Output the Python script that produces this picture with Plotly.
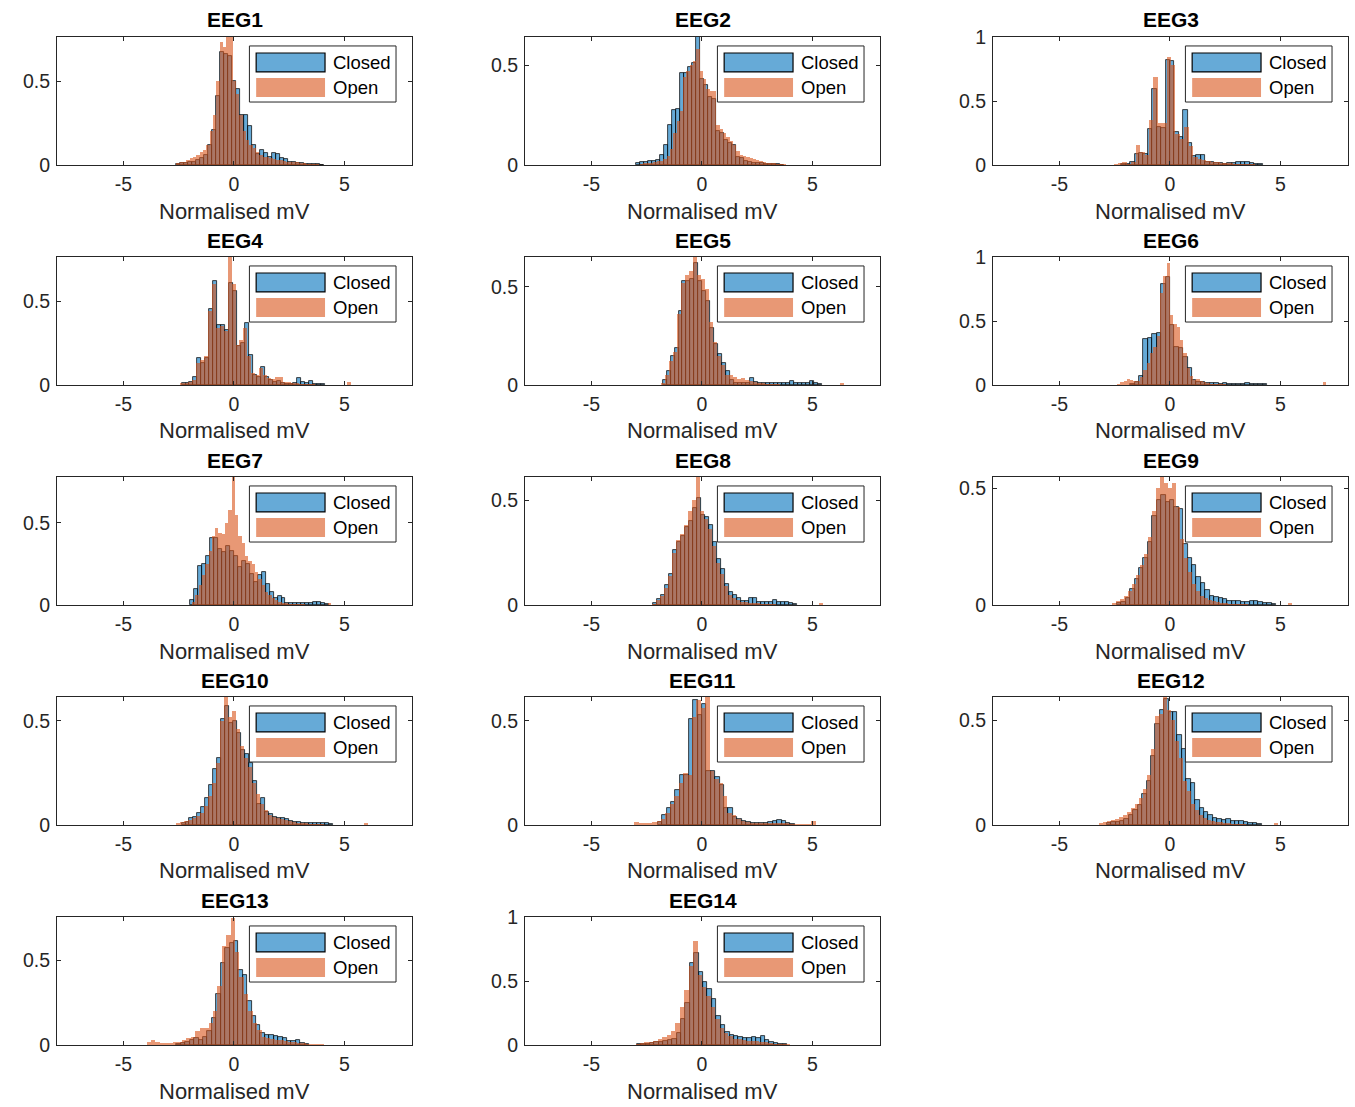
import plotly.graph_objects as go

channels = ["EEG1", "EEG2", "EEG3", "EEG4", "EEG5", "EEG6", "EEG7",
            "EEG8", "EEG9", "EEG10", "EEG11", "EEG12", "EEG13", "EEG14"]
series_names = ["Closed", "Open"]
x_label = "Normalised mV"
x_ticks = [-5, 0, 5]
x_tick_labels = ["-5", "0", "5"]
y_ticks = [0, 0.5, 1]
y_tick_labels = ["0", "0.5", "1"]

# histogram bin layout (left edge of first bin, bin width)
closed_start = [-2.6, -2.97, -2.2, -2.37, -1.78, -1.8, -1.99, -2.2, -2.4, -2.37, -2.0, -2.86, -2.6, -2.95]
closed_width = [0.18, 0.18, 0.2, 0.18, 0.18, 0.2, 0.18, 0.18, 0.2, 0.18, 0.2, 0.2, 0.2, 0.2]
open_start = [-2.6, -2.8, -2.55, -2.45, -1.85, -2.4, -1.9, -2.25, -2.6, -2.6, -3.05, -3.2, -3.95, -3.0]
open_width = [0.15, 0.15, 0.2, 0.18, 0.18, 0.15, 0.15, 0.18, 0.18, 0.18, 0.2, 0.18, 0.2, 0.2]
y_max = [0.762, 0.64, 1.0, 0.762, 0.653, 1.0, 0.78, 0.61, 0.547, 0.615, 0.615, 0.61, 0.753, 1.0]

eeg1_closed = [0.005, 0.01, 0.012, 0.015, 0.02, 0.03, 0.04, 0.06, 0.12, 0.21, 0.41, 0.67, 0.66, 0.65, 0.50, 0.45,
               0.30, 0.30, 0.23, 0.12, 0.065, 0.09, 0.07, 0.045, 0.073, 0.065, 0.04, 0.034, 0.02, 0.015, 0.012,
               0.01, 0.008, 0.006, 0.005, 0.004, 0.003]
eeg1_open = [0.01, 0.015, 0.02, 0.03, 0.04, 0.05, 0.06, 0.08, 0.09, 0.12, 0.2, 0.3, 0.5, 0.73, 0.7, 0.76, 0.76,
             0.5, 0.42, 0.3, 0.2, 0.15, 0.12, 0.1, 0.08, 0.06, 0.05, 0.045, 0.04, 0.035, 0.03, 0.03, 0.025, 0.02,
             0.02, 0.015, 0.015, 0.01, 0.01, 0.008, 0.005, 0.005, 0.004, 0.003, 0.003, 0.002]
eeg2_closed = [0.01, 0.015, 0.017, 0.02, 0.02, 0.025, 0.05, 0.1, 0.2, 0.275, 0.28, 0.46, 0.46, 0.49, 0.51, 0.65,
               0.43, 0.40, 0.34, 0.33, 0.17, 0.16, 0.125, 0.11, 0.1, 0.04, 0.035, 0.02, 0.015, 0.012, 0.01, 0.008,
               0.006, 0.005, 0.004, 0.003, 0.002]
eeg2_open = [0.005, 0.008, 0.01, 0.012, 0.015, 0.018, 0.02, 0.03, 0.045, 0.08, 0.16, 0.22, 0.27, 0.44, 0.47, 0.5,
             0.52, 0.58, 0.47, 0.43, 0.38, 0.37, 0.37, 0.2, 0.18, 0.16, 0.14, 0.12, 0.1, 0.07, 0.05, 0.045, 0.04,
             0.035, 0.03, 0.025, 0.02, 0.015, 0.012, 0.01, 0.008, 0.006, 0.005, 0.004]
eeg3_closed = [0.005, 0.01, 0.025, 0.085, 0.09, 0.085, 0.28, 0.59, 0.3, 0.29, 0.82, 0.815, 0.26, 0.22, 0.43, 0.17,
               0.07, 0.08, 0.08, 0.025, 0.02, 0.015, 0.012, 0.01, 0.012, 0.015, 0.02, 0.025, 0.02, 0.015, 0.01,
               0.005]
eeg3_open = [0.005, 0.015, 0.02, 0.01, 0.02, 0.16, 0.1, 0.08, 0.35, 0.69, 0.33, 0.33, 0.84, 0.78, 0.24, 0.2, 0.3,
             0.15, 0.06, 0.05, 0.04, 0.03, 0.02, 0.02, 0.015, 0.012, 0.015, 0.01, 0.008, 0.01, 0.008, 0.005]
eeg4_closed = [0.014, 0.014, 0.02, 0.045, 0.16, 0.13, 0.16, 0.45, 0.62, 0.36, 0.36, 0.33, 0.61, 0.56, 0.23, 0.25,
               0.37, 0.18, 0.06, 0.05, 0.11, 0.05, 0.03, 0.02, 0.025, 0.01, 0.008, 0.008, 0.01, 0.04, 0.02, 0.01,
               0.025, 0.008, 0.005, 0.004]
eeg4_open = [0.01, 0.012, 0.015, 0.03, 0.13, 0.15, 0.17, 0.44, 0.6, 0.34,
             0.35, 0.32, 0.76, 0.6, 0.24, 0.27, 0.34, 0.17, 0.07, 0.06,
             0.1, 0.06, 0.04, 0.035, 0.05, 0.05, 0.02, 0.015, 0.01, 0.01,
             0.008, 0.006, 0.005, 0.004, 0.003, 0.002, 0.002, 0.002, 0.002, 0.002,
             0, 0, 0.015]
eeg5_closed = [0.025, 0.07, 0.15, 0.19, 0.38, 0.53, 0.53, 0.54, 0.62, 0.53, 0.48, 0.43, 0.29, 0.21, 0.16, 0.11,
               0.07, 0.025, 0.01, 0.01, 0.012, 0.012, 0.034, 0.015, 0.012, 0.01, 0.01, 0.008, 0.01, 0.012, 0.01,
               0.01, 0.02, 0.01, 0.008, 0.01, 0.012, 0.02, 0.008, 0.004]
eeg5_open = [0.01, 0.05, 0.12, 0.17, 0.36, 0.52, 0.56, 0.58, 0.66, 0.56,
             0.54, 0.49, 0.32, 0.22, 0.15, 0.1, 0.05, 0.05, 0.04, 0.03,
             0.035, 0.025, 0.02, 0.015, 0.01, 0.008, 0.006, 0.005, 0.004, 0.003,
             0.002, 0.002, 0.002, 0.002, 0.002, 0.002, 0.002, 0.002, 0, 0,
             0, 0, 0, 0, 0, 0.01]
eeg6_closed = [0.005, 0.02, 0.07, 0.36, 0.37, 0.40, 0.41, 0.79, 0.84, 0.47, 0.30, 0.29, 0.22, 0.13, 0.04, 0.025,
               0.02, 0.015, 0.015, 0.012, 0.01, 0.012, 0.01, 0.01, 0.008, 0.01, 0.012, 0.01, 0.008, 0.005, 0.004]
eeg6_open = [0.01, 0.02, 0.03, 0.05, 0.04, 0.03, 0.03, 0.06, 0.12, 0.17,
             0.25, 0.3, 0.38, 0.72, 0.85, 0.95, 0.55, 0.48, 0.45, 0.35,
             0.25, 0.13, 0.07, 0.04, 0.05, 0.03, 0.02, 0.015, 0.01, 0.008,
             0.006, 0.005, 0.004, 0.003, 0.002, 0.002, 0.002, 0.002, 0.002, 0.002,
             0.002, 0.002, 0.002, 0.002, 0.002, 0, 0, 0, 0, 0,
             0, 0, 0, 0, 0, 0, 0, 0, 0, 0,
             0, 0, 0.02]
eeg7_closed = [0.03, 0.1, 0.24, 0.25, 0.3, 0.41, 0.41, 0.34, 0.32, 0.36, 0.33, 0.3, 0.23, 0.27, 0.25, 0.19, 0.14,
               0.18, 0.2, 0.13, 0.08, 0.04, 0.055, 0.04, 0.014, 0.014, 0.012, 0.012, 0.01, 0.01, 0.012, 0.02, 0.02,
               0.012, 0.005]
eeg7_open = [0.02, 0.06, 0.12, 0.18, 0.25, 0.33, 0.42, 0.47, 0.44, 0.43,
             0.5, 0.58, 0.78, 0.55, 0.42, 0.38, 0.3, 0.27, 0.25, 0.2,
             0.16, 0.12, 0.08, 0.06, 0.04, 0.03, 0.02, 0.015, 0.01, 0.008,
             0.006, 0.005, 0.004, 0.004, 0.003, 0.003, 0.003, 0.003, 0.003, 0.003,
             0.003, 0.01]
eeg8_closed = [0.008, 0.03, 0.05, 0.095, 0.15, 0.26, 0.3, 0.33, 0.37, 0.4, 0.46, 0.51, 0.43, 0.42, 0.38, 0.3,
               0.22, 0.17, 0.1, 0.063, 0.048, 0.032, 0.02, 0.02, 0.032, 0.032, 0.016, 0.012, 0.012, 0.016, 0.024,
               0.016, 0.016, 0.016, 0.008, 0.005]
eeg8_open = [0.005, 0.025, 0.045, 0.08, 0.14, 0.25, 0.31, 0.34, 0.38, 0.45,
             0.5, 0.62, 0.45, 0.41, 0.36, 0.28, 0.2, 0.15, 0.09, 0.05,
             0.035, 0.025, 0.015, 0.012, 0.01, 0.01, 0.008, 0.006, 0.005, 0.004,
             0.003, 0.002, 0.002, 0.002, 0.002, 0.002, 0.002, 0.002, 0.002, 0.002,
             0, 0, 0.01]
eeg9_closed = [0.007, 0.014, 0.03, 0.07, 0.11, 0.16, 0.2, 0.27, 0.38, 0.45, 0.47, 0.44, 0.45, 0.42, 0.41, 0.26,
               0.2, 0.17, 0.12, 0.093, 0.064, 0.038, 0.033, 0.028, 0.024, 0.017, 0.017, 0.017, 0.014, 0.014, 0.018,
               0.018, 0.014, 0.01, 0.007, 0.005]
eeg9_open = [0.008, 0.015, 0.025, 0.04, 0.06, 0.09, 0.13, 0.17, 0.22, 0.29,
             0.4, 0.5, 0.55, 0.52, 0.5, 0.52, 0.42, 0.28, 0.2, 0.14,
             0.09, 0.06, 0.04, 0.03, 0.02, 0.015, 0.012, 0.01, 0.008, 0.006,
             0.005, 0.004, 0.003, 0.003, 0.002, 0.002, 0.002, 0.002, 0.002, 0.002,
             0.002, 0.002, 0.002, 0.002, 0.01]
eeg10_closed = [0.008, 0.016, 0.032, 0.04, 0.06, 0.088, 0.13, 0.19, 0.27, 0.32, 0.51, 0.57, 0.49, 0.5, 0.44,
                0.36, 0.34, 0.3, 0.21, 0.1, 0.13, 0.064, 0.053, 0.04, 0.035, 0.032, 0.027, 0.021, 0.016, 0.016,
                0.011, 0.011, 0.011, 0.011, 0.008, 0.008, 0.008, 0.005]
eeg10_open = [0.01, 0.015, 0.02, 0.025, 0.035, 0.045, 0.06, 0.09, 0.14, 0.2,
              0.3, 0.5, 0.615, 0.52, 0.55, 0.46, 0.38, 0.32, 0.28, 0.2,
              0.15, 0.1, 0.07, 0.05, 0.04, 0.032, 0.027, 0.022, 0.018, 0.015,
              0.012, 0.01, 0.008, 0.006, 0.005, 0.004, 0.003, 0.002, 0.002, 0.002,
              0.002, 0.002, 0.002, 0.002, 0.002, 0.002, 0, 0.01]
eeg11_closed = [0.015, 0.05, 0.08, 0.11, 0.17, 0.24, 0.24, 0.51, 0.6, 0.53, 0.58, 0.26, 0.26, 0.23, 0.19, 0.08,
                0.08, 0.04, 0.03, 0.02, 0.015, 0.012, 0.01, 0.01, 0.012, 0.015, 0.02, 0.025, 0.02, 0.012, 0.005]
eeg11_open = [0.015, 0.01, 0.01, 0.012, 0.015, 0.02, 0.03, 0.06, 0.1, 0.14,
              0.2, 0.25, 0.24, 0.52, 0.6, 0.56, 0.615, 0.26, 0.22, 0.2,
              0.14, 0.06, 0.05, 0.03, 0.02, 0.015, 0.012, 0.01, 0.008, 0.008,
              0.008, 0.01, 0.01, 0.01, 0.008, 0.006, 0.004, 0.003, 0.003, 0.003,
              0.02]
eeg12_closed = [0.01, 0.012, 0.016, 0.02, 0.03, 0.05, 0.07, 0.095, 0.15, 0.21, 0.33, 0.48, 0.55, 0.6, 0.54, 0.54,
                0.43, 0.36, 0.22, 0.2, 0.12, 0.08, 0.063, 0.048, 0.032, 0.03, 0.024, 0.028, 0.02, 0.018, 0.018,
                0.014, 0.01, 0.01, 0.006]
eeg12_open = [0.01, 0.015, 0.02, 0.025, 0.03, 0.04, 0.05, 0.06, 0.08, 0.1,
              0.13, 0.17, 0.24, 0.36, 0.52, 0.53, 0.61, 0.55, 0.5, 0.4,
              0.32, 0.21, 0.16, 0.1, 0.07, 0.05, 0.035, 0.025, 0.02, 0.015,
              0.012, 0.01, 0.008, 0.006, 0.005, 0.004, 0.003, 0.002, 0.002, 0.002,
              0.002, 0.002, 0.002, 0.002, 0.01]
eeg13_closed = [0.005, 0.01, 0.015, 0.03, 0.04, 0.03, 0.05, 0.08, 0.16, 0.3, 0.48, 0.57, 0.6, 0.61, 0.44, 0.41,
                0.26, 0.17, 0.12, 0.07, 0.06, 0.06, 0.053, 0.05, 0.04, 0.025, 0.025, 0.03, 0.012, 0.006]
eeg13_open = [0.02, 0.03, 0.015, 0.01, 0.01, 0.012, 0.015, 0.02, 0.03, 0.04, 0.05, 0.08, 0.1, 0.1, 0.13, 0.2,
              0.35, 0.58, 0.65, 0.75, 0.55, 0.4, 0.3, 0.2, 0.13, 0.09, 0.05, 0.04, 0.035, 0.03, 0.03, 0.025,
              0.02, 0.015, 0.012, 0.01, 0.008, 0.006, 0.004, 0.003, 0.002]
eeg14_closed = [0.004, 0.005, 0.008, 0.012, 0.02, 0.026, 0.03, 0.04, 0.05, 0.09, 0.2, 0.33, 0.64, 0.72, 0.57,
                0.49, 0.44, 0.36, 0.23, 0.16, 0.1, 0.08, 0.07, 0.065, 0.057, 0.052, 0.065, 0.057, 0.07, 0.04,
                0.026, 0.015, 0.008, 0.005]
eeg14_open = [0.01, 0.015, 0.02, 0.025, 0.035, 0.045, 0.06, 0.08, 0.11, 0.17, 0.3, 0.43, 0.62, 0.81, 0.55, 0.45,
              0.38, 0.3, 0.2, 0.13, 0.09, 0.07, 0.05, 0.045, 0.04, 0.035, 0.03, 0.03, 0.025, 0.02, 0.015, 0.01,
              0.008, 0.005, 0.004, 0.003]

closed_heights = [eeg1_closed, eeg2_closed, eeg3_closed, eeg4_closed, eeg5_closed, eeg6_closed, eeg7_closed,
                  eeg8_closed, eeg9_closed, eeg10_closed, eeg11_closed, eeg12_closed, eeg13_closed, eeg14_closed]
open_heights = [eeg1_open, eeg2_open, eeg3_open, eeg4_open, eeg5_open, eeg6_open, eeg7_open,
                eeg8_open, eeg9_open, eeg10_open, eeg11_open, eeg12_open, eeg13_open, eeg14_open]

# ---------------- styling / layout ----------------
W, H = 1355, 1107
FONT = "Liberation Sans, Arial, Helvetica, sans-serif"
INK = "#262626"
CLOSED_FILL = "rgba(0,114,189,0.6)"
OPEN_FILL = "rgba(217,83,25,0.6)"
col_left = [57, 525, 993]
col_w = 355
row_top = [37, 257, 477, 697, 917]
ax_h = 128


def centers(start, width, n):
    return [start + width * (k + 0.5) for k in range(n)]


fig = go.Figure()
shapes = []
annotations = []

for i, name in enumerate(channels):
    r, c = divmod(i, 3)
    sfx = "" if i == 0 else str(i + 1)
    xa, ya = "x" + sfx, "y" + sfx
    ch = closed_heights[i]
    oh = open_heights[i]
    fig.add_trace(go.Bar(
        x=centers(closed_start[i], closed_width[i], len(ch)), y=ch, width=closed_width[i],
        marker=dict(color=CLOSED_FILL, line=dict(color="rgba(0,0,0,0.9)", width=0.8)),
        name=series_names[0], showlegend=False, xaxis=xa, yaxis=ya, hoverinfo="x+y"))
    fig.add_trace(go.Bar(
        x=centers(open_start[i], open_width[i], len(oh)), y=oh, width=open_width[i],
        marker=dict(color=OPEN_FILL, line=dict(width=0)),
        name=series_names[1], showlegend=False, xaxis=xa, yaxis=ya, hoverinfo="x+y"))

    x0 = col_left[c] / W
    x1 = (col_left[c] + col_w) / W
    y1 = 1 - row_top[r] / H
    y0 = 1 - (row_top[r] + ax_h) / H
    axis_common = dict(showgrid=False, zeroline=False, showline=True, linecolor=INK, linewidth=1,
                       mirror="ticks", ticks="inside", ticklen=4, tickwidth=1, tickcolor=INK,
                       automargin=False, tickfont=dict(family=FONT, size=19.5, color=INK))
    fig.layout["xaxis" + sfx] = dict(domain=[x0, x1], anchor=ya, range=[-8, 8.05],
                                     tickvals=x_ticks, ticktext=x_tick_labels, ticklabelstandoff=2,
                                     **axis_common)
    fig.layout["yaxis" + sfx] = dict(domain=[y0, y1], anchor=xa, range=[0, y_max[i]],
                                     tickvals=y_ticks, ticktext=y_tick_labels, ticklabelstandoff=2,
                                     **axis_common)

    xd, yd = xa + " domain", ya + " domain"
    # title and x label
    annotations.append(dict(xref=xd, yref=yd, x=0.5, y=1 + 17 / ax_h, text="<b>" + name + "</b>",
                            showarrow=False, xanchor="center", yanchor="middle",
                            font=dict(family=FONT, size=21, color="black")))
    annotations.append(dict(xref=xd, yref=yd, x=0.5, y=-46 / ax_h, text=x_label,
                            showarrow=False, xanchor="center", yanchor="middle",
                            font=dict(family=FONT, size=22, color=INK)))
    # legend box
    shapes.append(dict(type="rect", xref=xd, yref=yd, x0=0.542, x1=0.955, y0=0.492, y1=0.93,
                       fillcolor="white", line=dict(color=INK, width=1), layer="above"))
    shapes.append(dict(type="rect", xref=xd, yref=yd, x0=0.561, x1=0.755, y0=0.727, y1=0.875,
                       fillcolor=CLOSED_FILL, line=dict(color="black", width=1.2), layer="above"))
    shapes.append(dict(type="rect", xref=xd, yref=yd, x0=0.561, x1=0.755, y0=0.531, y1=0.68,
                       fillcolor=OPEN_FILL, line=dict(width=0), layer="above"))
    annotations.append(dict(xref=xd, yref=yd, x=0.772, y=0.80, text=series_names[0], showarrow=False,
                            xanchor="left", yanchor="middle", font=dict(family=FONT, size=18.5, color="black")))
    annotations.append(dict(xref=xd, yref=yd, x=0.772, y=0.605, text=series_names[1], showarrow=False,
                            xanchor="left", yanchor="middle", font=dict(family=FONT, size=18.5, color="black")))

fig.update_layout(width=W, height=H, autosize=False,
                  margin=dict(l=0, r=0, t=0, b=0, pad=0, autoexpand=False),
                  paper_bgcolor="white", plot_bgcolor="white", barmode="overlay", bargap=0,
                  showlegend=False, shapes=shapes, annotations=annotations, font=dict(family=FONT))

# pin the figure to the page origin so the browser's default body margin does not shift it
pin_js = ("document.body.style.margin='0';document.body.style.overflow='hidden';"
          "var gd=document.getElementById('{plot_id}');gd.style.position='absolute';"
          "gd.style.left='0px';gd.style.top='0px';")
fig.write_html("out.html", post_script=pin_js, config={"displayModeBar": False})
